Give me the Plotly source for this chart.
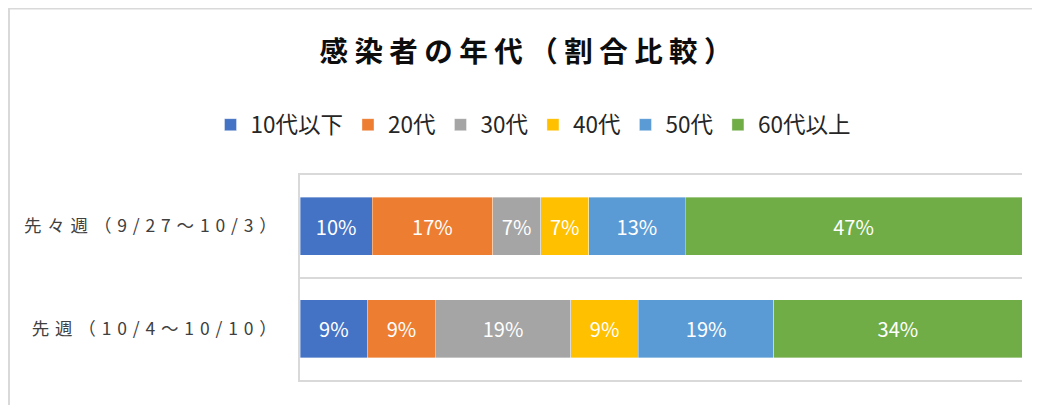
import plotly.graph_objects as go

# Data: counts per age group (read as proportions from the picture)
categories = ["先々週（9/27〜10/3）", "先週（10/4〜10/10）"]
age_groups = ["10代以下", "20代", "30代", "40代", "50代", "60代以上"]
counts_prev2 = [3, 5, 2, 2, 4, 14]   # 先々週
counts_prev1 = [3, 3, 6, 3, 6, 11]   # 先週
colors = ["#4472C4", "#ED7D31", "#A5A5A5", "#FFC000", "#5B9BD5", "#70AD47"]

title_text = "感染者の年代（割合比較）"

FONT = "Noto Sans CJK JP"
W, H = 1032, 397  # page body has an 8px margin inside the 1040x405 window


def spaced(s, sep=" "):
    return sep.join(list(s))


tot2 = sum(counts_prev2)
tot1 = sum(counts_prev1)
cat_labels = [spaced(c, "\u2004") for c in categories]

fig = go.Figure()
for i, g in enumerate(age_groups):
    p2 = counts_prev2[i] / tot2 * 100
    p1 = counts_prev1[i] / tot1 * 100
    fig.add_trace(go.Bar(
        name=g,
        y=cat_labels,
        x=[p2, p1],
        orientation="h",
        marker=dict(color=colors[i], line=dict(color="rgba(255,255,255,0.6)", width=0.6)),
        text=[f"{round(p2)}%", f"{round(p1)}%"],
        textposition="inside",
        insidetextanchor="middle",
        textangle=0,
        textfont=dict(color="white", size=20, family=FONT),
        hoverinfo="skip",
    ))

ml, mr, mt, mb = 292, 18, 167, 25
pw = W - ml - mr
ph = H - mt - mb

fig.update_layout(
    barmode="stack",
    bargap=0.435,
    width=W,
    height=H,
    margin=dict(l=ml, r=mr, t=mt, b=mb, autoexpand=False),
    paper_bgcolor="white",
    plot_bgcolor="white",
    font=dict(family=FONT, color="#404040"),
    title=dict(
        text=spaced(title_text),
        font=dict(family=FONT, size=28.5, color="#0d0d0d", weight="bold"),
        x=518 / W, xref="container", xanchor="center",
        y=1 - 44 / H, yref="container", yanchor="middle",
    ),
    legend=dict(
        orientation="h",
        x=525 / W, xref="container", xanchor="center",
        y=1 - 117 / H, yref="container", yanchor="middle",
        font=dict(family=FONT, size=22.5, color="#262626"),
        traceorder="normal",
        itemwidth=30,
    ),
    uniformtext=dict(mode="show", minsize=10),
    showlegend=True,
)

fig.update_xaxes(
    range=[0, 100], showticklabels=False, showgrid=False, zeroline=False,
    showline=True, mirror=True, linecolor="#D9D9D9", linewidth=1.5,
    ticks="", fixedrange=True,
)
fig.update_yaxes(
    autorange="reversed",
    tickson="boundaries",
    showgrid=True,
    gridcolor="#D9D9D9",
    gridwidth=1.5,
    showline=True,
    linecolor="#D9D9D9",
    linewidth=1.5,
    ticks="",
    ticklabelstandoff=18,
    tickfont=dict(family=FONT, size=17.5, color="#404040"),
)

# Outer chart-area border (cropped on the right and bottom in the original)
fig.add_shape(
    type="rect", xref="paper", yref="paper",
    x0=(1 - ml) / pw, x1=2.0,
    y0=-1.0, y1=(H - mb - 0.5) / ph,
    line=dict(color="#D9D9D9", width=2),
    fillcolor="rgba(0,0,0,0)",
    layer="below",
)

fig.write_html("out.html")
